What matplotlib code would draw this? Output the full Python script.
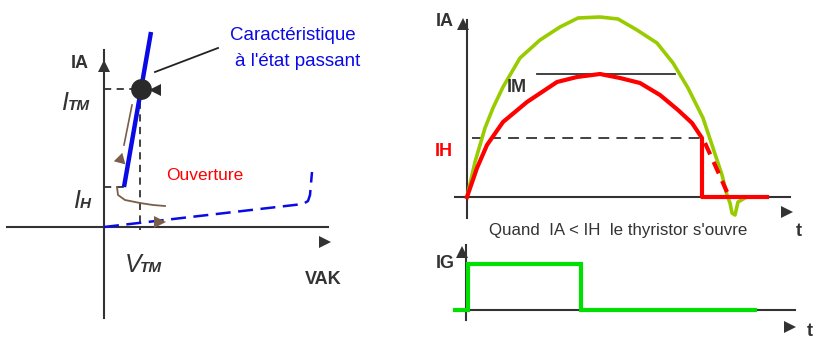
import matplotlib
matplotlib.use("Agg")
import matplotlib.pyplot as plt

plt.rcParams['font.family'] = ['Liberation Sans', 'DejaVu Sans']

AXC = "#333333"
BLUE = "#0a0ae6"
RED = "#ff0000"
LIME = "#99cc00"
GREEN = "#00e000"
BROWN = "#7b5e4a"

# --- left panel: IA = f(VAK) characteristic (origin at axis crossing)
on_state_v = [20, 47]
on_state_i = [40, 195]
itm_v, itm_i = 37, 138
ih_v, ih_i = 20, 40
off_state_v = [0, 199, 204, 206, 208]
off_state_i = [0, 23, 26, 32, 55]
return_v = [28, 20]
return_i = [122, 82]
turnoff_v = [13, 14, 21, 36, 49, 61]
turnoff_i = [40, 32, 27, 24, 22, 21]

# --- right top panel: IA(t)
green_t = [0, 8, 18, 26, 36, 53, 73, 93, 111, 133, 151, 170, 190, 206, 221,
           236, 246, 255, 260, 263, 265, 268, 271, 278]
green_ia = [0, 35, 69, 89, 110, 139, 157, 170, 179, 180, 178, 167, 154, 134,
            109, 79, 49, 22, 2, -6, -16, -18, -5, -1]
red_t = [0, 10, 20, 36, 60, 90, 110, 133, 153, 173, 193, 211, 225, 235, 235, 300]
red_ia = [0, 29, 52, 75, 95, 115, 120, 123, 119, 114, 102, 87, 74, 59, 0, 0]
red_tail_t = [238, 248, 260]
red_tail_ia = [54, 32, 5]
ih_level = 59
im_level = 123
im_span = [70, 208]

# --- right bottom panel: IG(t)
ig_t = [-11, 2, 2, 115, 115, 289]
ig_val = [0, 0, 46, 46, 0, 0]

W, H = 817, 339
fig = plt.figure(figsize=(W / 100, H / 100), dpi=100)
fig.patch.set_facecolor("white")


def make_ax(px0, py0, px1, py1, ox, oy):
    # axes covering pixel box, 1 data unit = 1 pixel, origin at (ox, oy)
    ax = fig.add_axes([px0 / W, 1 - py1 / H, (px1 - px0) / W, (py1 - py0) / H])
    ax.set_xlim(px0 - ox, px1 - ox)
    ax.set_ylim(oy - py1, oy - py0)
    ax.axis("off")
    return ax


# ---------------- left panel
ax = make_ax(0, 0, 410, 339, 104, 227)
ax.plot([0, 0], [-91, 177], color=AXC, lw=1.5)
ax.plot([-97, 224], [0, 0], color=AXC, lw=1.5)
ax.plot(0, 161, marker="^", color=AXC, ms=8, mew=0)
ax.plot(221, -15, marker=">", color=AXC, ms=8, mew=0)

ax.plot([0, itm_v], [itm_i, itm_i], color=AXC, lw=1.3, ls=(0, (4, 3)))
ax.plot([itm_v - 1, itm_v - 1], [itm_i, -3], color=AXC, lw=1.3, ls=(0, (4, 3)))
ax.plot([0, ih_v], [ih_i, ih_i], color=AXC, lw=1.3, ls=(0, (4, 3)))

ax.plot(off_state_v, off_state_i, color=BLUE, lw=1.8, ls=(0, (6, 3)))
ax.plot(on_state_v, on_state_i, color=BLUE, lw=3.2, solid_capstyle="butt")
ax.plot(return_v, return_i, color=BROWN, lw=1.2)
ax.plot(turnoff_v, turnoff_i, color=BROWN, lw=1.3)
ax.plot(16, 68, marker=(3, 0, -15), color=BROWN, ms=10, mew=0)
ax.plot(56, 5, marker=">", color=BROWN, ms=8, mew=0)

ax.plot(itm_v, itm_i, marker="o", color="#2a2a2a", ms=15, mew=0)
ax.plot(51, itm_i - 1, marker="<", color="#2a2a2a", ms=9, mew=0)
ax.plot([51, 114], [155, 179], color="#222222", lw=1.3)

ax.text(-24, 164, "IA", fontsize=13, fontweight="bold", color=AXC, ha="center", va="center")
ax.text(219, -53, "VAK", fontsize=13, fontweight="bold", color=AXC, ha="center", va="center")
ax.text(-43, 117, "I", fontsize=18, style="italic", color=AXC, ha="left", va="baseline")
ax.text(-36, 117, "TM", fontsize=11, style="italic", fontweight="bold", color=AXC,
        ha="left", va="baseline")
ax.text(-31, 19, "I", fontsize=18, style="italic", color=AXC, ha="left", va="baseline")
ax.text(-24, 19, "H", fontsize=11, style="italic", fontweight="bold", color=AXC,
        ha="left", va="baseline")
ax.text(21, -45, "V", fontsize=18, style="italic", color=AXC, ha="left", va="baseline")
ax.text(36, -45, "TM", fontsize=11, style="italic", fontweight="bold", color=AXC,
        ha="left", va="baseline")
ax.text(101, 52, "Ouverture", fontsize=12.5, color=RED, ha="center", va="center")
ax.text(189, 191, "Caractéristique", fontsize=13.5, color=BLUE, ha="center", va="center")
ax.text(194, 166, "à l'état passant", fontsize=13.5, color=BLUE, ha="center", va="center")

# ---------------- right top panel
ax2 = make_ax(410, 0, 817, 240, 467, 197)
ax2.plot([0, 0], [-21, 177], color=AXC, lw=1.5)
ax2.plot([-12, 323], [0, 0], color=AXC, lw=1.5)
ax2.plot(-4, 173, marker="^", color=AXC, ms=8, mew=0)
ax2.plot(320, -15, marker=">", color=AXC, ms=8, mew=0)

ax2.plot([5, red_t[13]], [ih_level, ih_level], color=AXC, lw=1.3, ls=(0, (6, 4)))
ax2.plot(im_span, [im_level, im_level], color=AXC, lw=1.3)
ax2.plot(green_t, green_ia, color=LIME, lw=2.6, solid_joinstyle="round")
ax2.plot(red_t, red_ia, color=RED, lw=3, solid_joinstyle="round")
ax2.plot(red_tail_t, red_tail_ia, color=RED, lw=3, ls=(0, (3, 2)))

ax2.text(-22, 175, "IA", fontsize=13, fontweight="bold", color=AXC, ha="center", va="center")
ax2.text(50, 109, "IM", fontsize=13, fontweight="bold", color=AXC, ha="center", va="center")
ax2.text(-23, 46, "IH", fontsize=13, fontweight="bold", color=RED, ha="center", va="center")
ax2.text(332, -34, "t", fontsize=13, fontweight="bold", color=AXC, ha="center", va="center")
ax2.text(151, -33, "Quand  IA < IH  le thyristor s'ouvre", fontsize=12.2, color=AXC,
         ha="center", va="center")

# ---------------- right bottom panel
ax3 = make_ax(410, 240, 817, 339, 466, 310)
ax3.plot([0, 0], [-10, 65], color=AXC, lw=1.5)
ax3.plot([-11, 329], [0, 0], color=AXC, lw=1.5)
ax3.plot(-4, 58, marker="^", color=AXC, ms=8, mew=0)
ax3.plot(324, -17, marker=">", color=AXC, ms=8, mew=0)
ax3.plot(ig_t, ig_val, color=GREEN, lw=3, solid_joinstyle="miter")
ax3.text(-21, 46, "IG", fontsize=13, fontweight="bold", color=AXC, ha="center", va="center")
ax3.text(344, -21, "t", fontsize=13, fontweight="bold", color=AXC, ha="center", va="center")

fig.savefig("out.png", dpi=100)
